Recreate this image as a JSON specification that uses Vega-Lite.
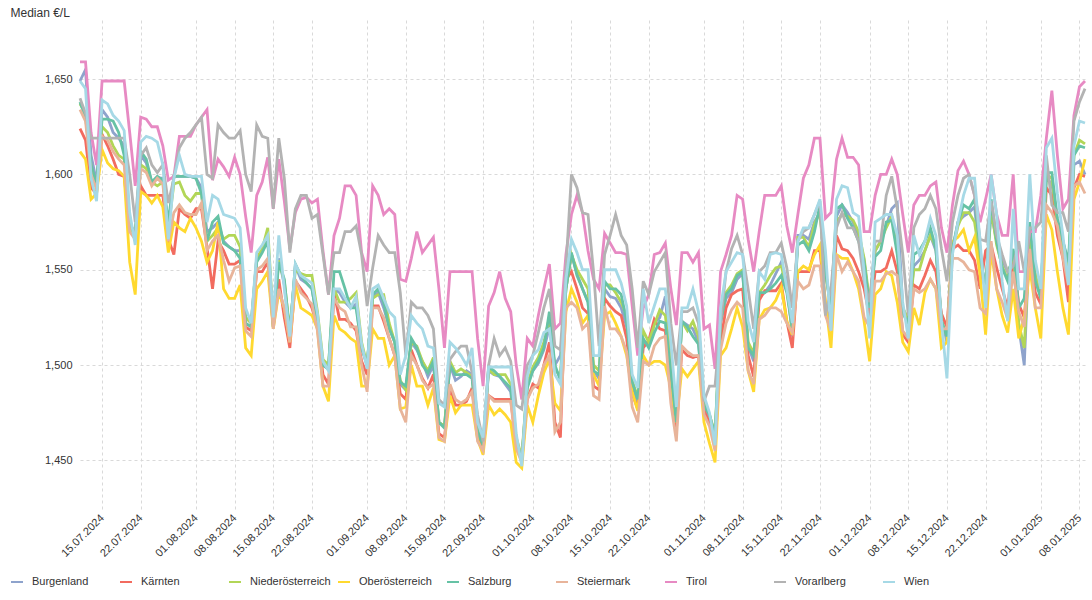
{
"$schema":"https://vega.github.io/schema/vega-lite/v6.json",
"width":1005,"height":490,
"autosize":{"type":"none"},
"padding":{"left":80,"top":20,"right":7,"bottom":90},
"background":"white",
"config":{"view":{"stroke":null},"font":"Liberation Sans"},
"data":{"values":[
{"t":"2024-07-11","Burgenland":1.649,"Kärnten":1.624,"Niederösterreich":1.637,"Oberösterreich":1.612,"Salzburg":1.638,"Steiermark":1.634,"Tirol":1.659,"Vorarlberg":1.640,"Wien":1.649},
{"t":"2024-07-12","Burgenland":1.655,"Kärnten":1.618,"Niederösterreich":1.632,"Oberösterreich":1.608,"Salzburg":1.630,"Steiermark":1.628,"Tirol":1.659,"Vorarlberg":1.632,"Wien":1.645},
{"t":"2024-07-13","Burgenland":1.610,"Kärnten":1.593,"Niederösterreich":1.604,"Oberösterreich":1.587,"Salzburg":1.605,"Steiermark":1.600,"Tirol":1.622,"Vorarlberg":1.619,"Wien":1.598},
{"t":"2024-07-14","Burgenland":1.596,"Kärnten":1.590,"Niederösterreich":1.595,"Oberösterreich":1.590,"Salzburg":1.595,"Steiermark":1.592,"Tirol":1.605,"Vorarlberg":1.619,"Wien":1.586},
{"t":"2024-07-15","Burgenland":1.634,"Kärnten":1.621,"Niederösterreich":1.625,"Oberösterreich":1.613,"Salzburg":1.629,"Steiermark":1.620,"Tirol":1.649,"Vorarlberg":1.619,"Wien":1.639},
{"t":"2024-07-16","Burgenland":1.630,"Kärnten":1.615,"Niederösterreich":1.622,"Oberösterreich":1.606,"Salzburg":1.629,"Steiermark":1.618,"Tirol":1.649,"Vorarlberg":1.619,"Wien":1.637},
{"t":"2024-07-17","Burgenland":1.622,"Kärnten":1.608,"Niederösterreich":1.615,"Oberösterreich":1.603,"Salzburg":1.628,"Steiermark":1.612,"Tirol":1.649,"Vorarlberg":1.619,"Wien":1.631},
{"t":"2024-07-18","Burgenland":1.619,"Kärnten":1.600,"Niederösterreich":1.610,"Oberösterreich":1.602,"Salzburg":1.622,"Steiermark":1.608,"Tirol":1.649,"Vorarlberg":1.619,"Wien":1.628},
{"t":"2024-07-19","Burgenland":1.615,"Kärnten":1.599,"Niederösterreich":1.608,"Oberösterreich":1.599,"Salzburg":1.610,"Steiermark":1.605,"Tirol":1.649,"Vorarlberg":1.619,"Wien":1.623},
{"t":"2024-07-20","Burgenland":1.575,"Kärnten":1.572,"Niederösterreich":1.572,"Oberösterreich":1.554,"Salzburg":1.575,"Steiermark":1.570,"Tirol":1.622,"Vorarlberg":1.600,"Wien":1.580},
{"t":"2024-07-21","Burgenland":1.568,"Kärnten":1.568,"Niederösterreich":1.568,"Oberösterreich":1.537,"Salzburg":1.568,"Steiermark":1.566,"Tirol":1.594,"Vorarlberg":1.575,"Wien":1.563},
{"t":"2024-07-22","Burgenland":1.610,"Kärnten":1.594,"Niederösterreich":1.605,"Oberösterreich":1.591,"Salzburg":1.612,"Steiermark":1.603,"Tirol":1.630,"Vorarlberg":1.610,"Wien":1.617},
{"t":"2024-07-23","Burgenland":1.606,"Kärnten":1.589,"Niederösterreich":1.603,"Oberösterreich":1.589,"Salzburg":1.608,"Steiermark":1.601,"Tirol":1.629,"Vorarlberg":1.614,"Wien":1.620},
{"t":"2024-07-24","Burgenland":1.596,"Kärnten":1.589,"Niederösterreich":1.596,"Oberösterreich":1.585,"Salzburg":1.596,"Steiermark":1.594,"Tirol":1.625,"Vorarlberg":1.605,"Wien":1.619},
{"t":"2024-07-25","Burgenland":1.598,"Kärnten":1.589,"Niederösterreich":1.594,"Oberösterreich":1.589,"Salzburg":1.599,"Steiermark":1.598,"Tirol":1.625,"Vorarlberg":1.601,"Wien":1.617},
{"t":"2024-07-26","Burgenland":1.598,"Kärnten":1.589,"Niederösterreich":1.596,"Oberösterreich":1.583,"Salzburg":1.597,"Steiermark":1.595,"Tirol":1.615,"Vorarlberg":1.605,"Wien":1.605},
{"t":"2024-07-27","Burgenland":1.570,"Kärnten":1.566,"Niederösterreich":1.572,"Oberösterreich":1.559,"Salzburg":1.575,"Steiermark":1.565,"Tirol":1.597,"Vorarlberg":1.585,"Wien":1.566},
{"t":"2024-07-28","Burgenland":1.599,"Kärnten":1.558,"Niederösterreich":1.595,"Oberösterreich":1.575,"Salzburg":1.599,"Steiermark":1.580,"Tirol":1.599,"Vorarlberg":1.598,"Wien":1.598},
{"t":"2024-07-29","Burgenland":1.599,"Kärnten":1.582,"Niederösterreich":1.596,"Oberösterreich":1.572,"Salzburg":1.599,"Steiermark":1.584,"Tirol":1.620,"Vorarlberg":1.614,"Wien":1.610},
{"t":"2024-07-30","Burgenland":1.599,"Kärnten":1.579,"Niederösterreich":1.589,"Oberösterreich":1.570,"Salzburg":1.599,"Steiermark":1.580,"Tirol":1.620,"Vorarlberg":1.619,"Wien":1.600},
{"t":"2024-07-31","Burgenland":1.599,"Kärnten":1.577,"Niederösterreich":1.586,"Oberösterreich":1.577,"Salzburg":1.599,"Steiermark":1.579,"Tirol":1.620,"Vorarlberg":1.622,"Wien":1.599},
{"t":"2024-08-01","Burgenland":1.598,"Kärnten":1.582,"Niederösterreich":1.590,"Oberösterreich":1.572,"Salzburg":1.598,"Steiermark":1.579,"Tirol":1.626,"Vorarlberg":1.626,"Wien":1.599},
{"t":"2024-08-02","Burgenland":1.593,"Kärnten":1.582,"Niederösterreich":1.590,"Oberösterreich":1.565,"Salzburg":1.590,"Steiermark":1.585,"Tirol":1.630,"Vorarlberg":1.630,"Wien":1.599},
{"t":"2024-08-03","Burgenland":1.570,"Kärnten":1.562,"Niederösterreich":1.565,"Oberösterreich":1.554,"Salzburg":1.565,"Steiermark":1.560,"Tirol":1.634,"Vorarlberg":1.600,"Wien":1.575},
{"t":"2024-08-04","Burgenland":1.572,"Kärnten":1.540,"Niederösterreich":1.568,"Oberösterreich":1.560,"Salzburg":1.575,"Steiermark":1.565,"Tirol":1.597,"Vorarlberg":1.598,"Wien":1.589},
{"t":"2024-08-05","Burgenland":1.575,"Kärnten":1.565,"Niederösterreich":1.572,"Oberösterreich":1.575,"Salzburg":1.578,"Steiermark":1.568,"Tirol":1.608,"Vorarlberg":1.626,"Wien":1.587},
{"t":"2024-08-06","Burgenland":1.565,"Kärnten":1.560,"Niederösterreich":1.566,"Oberösterreich":1.540,"Salzburg":1.564,"Steiermark":1.555,"Tirol":1.604,"Vorarlberg":1.622,"Wien":1.579},
{"t":"2024-08-07","Burgenland":1.562,"Kärnten":1.553,"Niederösterreich":1.568,"Oberösterreich":1.535,"Salzburg":1.562,"Steiermark":1.544,"Tirol":1.599,"Vorarlberg":1.619,"Wien":1.578},
{"t":"2024-08-08","Burgenland":1.560,"Kärnten":1.553,"Niederösterreich":1.568,"Oberösterreich":1.535,"Salzburg":1.560,"Steiermark":1.551,"Tirol":1.609,"Vorarlberg":1.619,"Wien":1.577},
{"t":"2024-08-09","Burgenland":1.560,"Kärnten":1.555,"Niederösterreich":1.562,"Oberösterreich":1.542,"Salzburg":1.556,"Steiermark":1.552,"Tirol":1.600,"Vorarlberg":1.623,"Wien":1.572},
{"t":"2024-08-10","Burgenland":1.525,"Kärnten":1.520,"Niederösterreich":1.525,"Oberösterreich":1.509,"Salzburg":1.522,"Steiermark":1.518,"Tirol":1.578,"Vorarlberg":1.600,"Wien":1.530},
{"t":"2024-08-11","Burgenland":1.522,"Kärnten":1.518,"Niederösterreich":1.522,"Oberösterreich":1.505,"Salzburg":1.520,"Steiermark":1.515,"Tirol":1.559,"Vorarlberg":1.591,"Wien":1.522},
{"t":"2024-08-12","Burgenland":1.556,"Kärnten":1.549,"Niederösterreich":1.556,"Oberösterreich":1.540,"Salzburg":1.554,"Steiermark":1.550,"Tirol":1.589,"Vorarlberg":1.626,"Wien":1.559},
{"t":"2024-08-13","Burgenland":1.560,"Kärnten":1.549,"Niederösterreich":1.561,"Oberösterreich":1.544,"Salzburg":1.559,"Steiermark":1.552,"Tirol":1.596,"Vorarlberg":1.620,"Wien":1.563},
{"t":"2024-08-14","Burgenland":1.566,"Kärnten":1.554,"Niederösterreich":1.572,"Oberösterreich":1.549,"Salzburg":1.565,"Steiermark":1.556,"Tirol":1.609,"Vorarlberg":1.619,"Wien":1.568},
{"t":"2024-08-15","Burgenland":1.522,"Kärnten":1.520,"Niederösterreich":1.522,"Oberösterreich":1.519,"Salzburg":1.520,"Steiermark":1.519,"Tirol":1.582,"Vorarlberg":1.582,"Wien":1.525},
{"t":"2024-08-16","Burgenland":1.556,"Kärnten":1.545,"Niederösterreich":1.555,"Oberösterreich":1.538,"Salzburg":1.554,"Steiermark":1.540,"Tirol":1.608,"Vorarlberg":1.619,"Wien":1.568},
{"t":"2024-08-17","Burgenland":1.542,"Kärnten":1.525,"Niederösterreich":1.544,"Oberösterreich":1.530,"Salzburg":1.545,"Steiermark":1.530,"Tirol":1.586,"Vorarlberg":1.598,"Wien":1.540},
{"t":"2024-08-18","Burgenland":1.516,"Kärnten":1.509,"Niederösterreich":1.518,"Oberösterreich":1.512,"Salzburg":1.516,"Steiermark":1.512,"Tirol":1.561,"Vorarlberg":1.559,"Wien":1.515},
{"t":"2024-08-19","Burgenland":1.552,"Kärnten":1.544,"Niederösterreich":1.550,"Oberösterreich":1.542,"Salzburg":1.553,"Steiermark":1.545,"Tirol":1.580,"Vorarlberg":1.582,"Wien":1.553},
{"t":"2024-08-20","Burgenland":1.545,"Kärnten":1.540,"Niederösterreich":1.548,"Oberösterreich":1.530,"Salzburg":1.547,"Steiermark":1.538,"Tirol":1.587,"Vorarlberg":1.589,"Wien":1.547},
{"t":"2024-08-21","Burgenland":1.543,"Kärnten":1.536,"Niederösterreich":1.547,"Oberösterreich":1.528,"Salzburg":1.543,"Steiermark":1.535,"Tirol":1.588,"Vorarlberg":1.589,"Wien":1.545},
{"t":"2024-08-22","Burgenland":1.540,"Kärnten":1.530,"Niederösterreich":1.547,"Oberösterreich":1.526,"Salzburg":1.540,"Steiermark":1.532,"Tirol":1.585,"Vorarlberg":1.577,"Wien":1.543},
{"t":"2024-08-23","Burgenland":1.523,"Kärnten":1.520,"Niederösterreich":1.528,"Oberösterreich":1.519,"Salzburg":1.523,"Steiermark":1.518,"Tirol":1.587,"Vorarlberg":1.579,"Wien":1.527},
{"t":"2024-08-24","Burgenland":1.500,"Kärnten":1.495,"Niederösterreich":1.503,"Oberösterreich":1.489,"Salzburg":1.500,"Steiermark":1.489,"Tirol":1.560,"Vorarlberg":1.558,"Wien":1.502},
{"t":"2024-08-25","Burgenland":1.498,"Kärnten":1.490,"Niederösterreich":1.500,"Oberösterreich":1.481,"Salzburg":1.498,"Steiermark":1.489,"Tirol":1.537,"Vorarlberg":1.537,"Wien":1.497},
{"t":"2024-08-26","Burgenland":1.540,"Kärnten":1.538,"Niederösterreich":1.540,"Oberösterreich":1.526,"Salzburg":1.549,"Steiermark":1.535,"Tirol":1.568,"Vorarlberg":1.559,"Wien":1.540},
{"t":"2024-08-27","Burgenland":1.538,"Kärnten":1.524,"Niederösterreich":1.533,"Oberösterreich":1.519,"Salzburg":1.549,"Steiermark":1.530,"Tirol":1.577,"Vorarlberg":1.559,"Wien":1.540},
{"t":"2024-08-28","Burgenland":1.533,"Kärnten":1.524,"Niederösterreich":1.533,"Oberösterreich":1.517,"Salzburg":1.540,"Steiermark":1.528,"Tirol":1.594,"Vorarlberg":1.570,"Wien":1.535},
{"t":"2024-08-29","Burgenland":1.530,"Kärnten":1.522,"Niederösterreich":1.535,"Oberösterreich":1.514,"Salzburg":1.530,"Steiermark":1.520,"Tirol":1.594,"Vorarlberg":1.570,"Wien":1.530},
{"t":"2024-08-30","Burgenland":1.532,"Kärnten":1.518,"Niederösterreich":1.538,"Oberösterreich":1.512,"Salzburg":1.530,"Steiermark":1.520,"Tirol":1.589,"Vorarlberg":1.573,"Wien":1.536},
{"t":"2024-08-31","Burgenland":1.509,"Kärnten":1.502,"Niederösterreich":1.512,"Oberösterreich":1.489,"Salzburg":1.509,"Steiermark":1.500,"Tirol":1.559,"Vorarlberg":1.558,"Wien":1.511},
{"t":"2024-09-01","Burgenland":1.500,"Kärnten":1.495,"Niederösterreich":1.500,"Oberösterreich":1.489,"Salzburg":1.500,"Steiermark":1.486,"Tirol":1.549,"Vorarlberg":1.531,"Wien":1.498},
{"t":"2024-09-02","Burgenland":1.536,"Kärnten":1.531,"Niederösterreich":1.535,"Oberösterreich":1.519,"Salzburg":1.537,"Steiermark":1.530,"Tirol":1.594,"Vorarlberg":1.551,"Wien":1.540},
{"t":"2024-09-03","Burgenland":1.538,"Kärnten":1.531,"Niederösterreich":1.537,"Oberösterreich":1.514,"Salzburg":1.540,"Steiermark":1.530,"Tirol":1.589,"Vorarlberg":1.568,"Wien":1.542},
{"t":"2024-09-04","Burgenland":1.530,"Kärnten":1.523,"Niederösterreich":1.537,"Oberösterreich":1.514,"Salzburg":1.533,"Steiermark":1.525,"Tirol":1.579,"Vorarlberg":1.563,"Wien":1.535},
{"t":"2024-09-05","Burgenland":1.520,"Kärnten":1.514,"Niederösterreich":1.522,"Oberösterreich":1.500,"Salzburg":1.519,"Steiermark":1.514,"Tirol":1.582,"Vorarlberg":1.559,"Wien":1.528},
{"t":"2024-09-06","Burgenland":1.512,"Kärnten":1.505,"Niederösterreich":1.512,"Oberösterreich":1.505,"Salzburg":1.512,"Steiermark":1.505,"Tirol":1.579,"Vorarlberg":1.559,"Wien":1.525},
{"t":"2024-09-07","Burgenland":1.490,"Kärnten":1.485,"Niederösterreich":1.492,"Oberösterreich":1.477,"Salzburg":1.491,"Steiermark":1.477,"Tirol":1.545,"Vorarlberg":1.538,"Wien":1.495},
{"t":"2024-09-08","Burgenland":1.487,"Kärnten":1.482,"Niederösterreich":1.487,"Oberösterreich":1.478,"Salzburg":1.489,"Steiermark":1.470,"Tirol":1.544,"Vorarlberg":1.505,"Wien":1.505},
{"t":"2024-09-09","Burgenland":1.512,"Kärnten":1.508,"Niederösterreich":1.512,"Oberösterreich":1.500,"Salzburg":1.514,"Steiermark":1.505,"Tirol":1.556,"Vorarlberg":1.533,"Wien":1.526},
{"t":"2024-09-10","Burgenland":1.508,"Kärnten":1.500,"Niederösterreich":1.510,"Oberösterreich":1.489,"Salzburg":1.509,"Steiermark":1.500,"Tirol":1.570,"Vorarlberg":1.530,"Wien":1.522},
{"t":"2024-09-11","Burgenland":1.502,"Kärnten":1.493,"Niederösterreich":1.502,"Oberösterreich":1.489,"Salzburg":1.500,"Steiermark":1.492,"Tirol":1.559,"Vorarlberg":1.530,"Wien":1.519},
{"t":"2024-09-12","Burgenland":1.494,"Kärnten":1.488,"Niederösterreich":1.497,"Oberösterreich":1.479,"Salzburg":1.496,"Steiermark":1.488,"Tirol":1.563,"Vorarlberg":1.526,"Wien":1.510},
{"t":"2024-09-13","Burgenland":1.500,"Kärnten":1.495,"Niederösterreich":1.504,"Oberösterreich":1.488,"Salzburg":1.502,"Steiermark":1.490,"Tirol":1.567,"Vorarlberg":1.519,"Wien":1.509},
{"t":"2024-09-14","Burgenland":1.470,"Kärnten":1.464,"Niederösterreich":1.470,"Oberösterreich":1.461,"Salzburg":1.470,"Steiermark":1.462,"Tirol":1.540,"Vorarlberg":1.482,"Wien":1.480},
{"t":"2024-09-15","Burgenland":1.468,"Kärnten":1.462,"Niederösterreich":1.468,"Oberösterreich":1.460,"Salzburg":1.467,"Steiermark":1.460,"Tirol":1.509,"Vorarlberg":1.479,"Wien":1.478},
{"t":"2024-09-16","Burgenland":1.500,"Kärnten":1.488,"Niederösterreich":1.502,"Oberösterreich":1.484,"Salzburg":1.500,"Steiermark":1.490,"Tirol":1.549,"Vorarlberg":1.503,"Wien":1.512},
{"t":"2024-09-17","Burgenland":1.492,"Kärnten":1.479,"Niederösterreich":1.496,"Oberösterreich":1.475,"Salzburg":1.495,"Steiermark":1.482,"Tirol":1.549,"Vorarlberg":1.507,"Wien":1.509},
{"t":"2024-09-18","Burgenland":1.494,"Kärnten":1.479,"Niederösterreich":1.498,"Oberösterreich":1.479,"Salzburg":1.495,"Steiermark":1.480,"Tirol":1.549,"Vorarlberg":1.510,"Wien":1.505},
{"t":"2024-09-19","Burgenland":1.497,"Kärnten":1.481,"Niederösterreich":1.496,"Oberösterreich":1.479,"Salzburg":1.495,"Steiermark":1.482,"Tirol":1.549,"Vorarlberg":1.510,"Wien":1.500},
{"t":"2024-09-20","Burgenland":1.495,"Kärnten":1.488,"Niederösterreich":1.494,"Oberösterreich":1.479,"Salzburg":1.493,"Steiermark":1.486,"Tirol":1.549,"Vorarlberg":1.496,"Wien":1.509},
{"t":"2024-09-21","Burgenland":1.466,"Kärnten":1.462,"Niederösterreich":1.466,"Oberösterreich":1.461,"Salzburg":1.465,"Steiermark":1.460,"Tirol":1.514,"Vorarlberg":1.474,"Wien":1.470},
{"t":"2024-09-22","Burgenland":1.458,"Kärnten":1.456,"Niederösterreich":1.458,"Oberösterreich":1.453,"Salzburg":1.458,"Steiermark":1.455,"Tirol":1.489,"Vorarlberg":1.460,"Wien":1.462},
{"t":"2024-09-23","Burgenland":1.497,"Kärnten":1.484,"Niederösterreich":1.498,"Oberösterreich":1.479,"Salzburg":1.499,"Steiermark":1.484,"Tirol":1.531,"Vorarlberg":1.500,"Wien":1.499},
{"t":"2024-09-24","Burgenland":1.495,"Kärnten":1.482,"Niederösterreich":1.495,"Oberösterreich":1.474,"Salzburg":1.497,"Steiermark":1.481,"Tirol":1.538,"Vorarlberg":1.514,"Wien":1.499},
{"t":"2024-09-25","Burgenland":1.494,"Kärnten":1.482,"Niederösterreich":1.495,"Oberösterreich":1.477,"Salzburg":1.494,"Steiermark":1.481,"Tirol":1.549,"Vorarlberg":1.505,"Wien":1.499},
{"t":"2024-09-26","Burgenland":1.490,"Kärnten":1.482,"Niederösterreich":1.495,"Oberösterreich":1.474,"Salzburg":1.491,"Steiermark":1.481,"Tirol":1.535,"Vorarlberg":1.509,"Wien":1.499},
{"t":"2024-09-27","Burgenland":1.486,"Kärnten":1.482,"Niederösterreich":1.490,"Oberösterreich":1.470,"Salzburg":1.488,"Steiermark":1.481,"Tirol":1.528,"Vorarlberg":1.502,"Wien":1.499},
{"t":"2024-09-28","Burgenland":1.460,"Kärnten":1.458,"Niederösterreich":1.462,"Oberösterreich":1.449,"Salzburg":1.461,"Steiermark":1.456,"Tirol":1.500,"Vorarlberg":1.479,"Wien":1.464},
{"t":"2024-09-29","Burgenland":1.450,"Kärnten":1.450,"Niederösterreich":1.452,"Oberösterreich":1.446,"Salzburg":1.450,"Steiermark":1.449,"Tirol":1.482,"Vorarlberg":1.477,"Wien":1.447},
{"t":"2024-09-30","Burgenland":1.490,"Kärnten":1.482,"Niederösterreich":1.490,"Oberösterreich":1.479,"Salzburg":1.488,"Steiermark":1.482,"Tirol":1.514,"Vorarlberg":1.500,"Wien":1.494},
{"t":"2024-10-01","Burgenland":1.497,"Kärnten":1.490,"Niederösterreich":1.499,"Oberösterreich":1.470,"Salzburg":1.497,"Steiermark":1.488,"Tirol":1.510,"Vorarlberg":1.505,"Wien":1.505},
{"t":"2024-10-02","Burgenland":1.501,"Kärnten":1.488,"Niederösterreich":1.504,"Oberösterreich":1.484,"Salzburg":1.502,"Steiermark":1.490,"Tirol":1.526,"Vorarlberg":1.517,"Wien":1.508},
{"t":"2024-10-03","Burgenland":1.508,"Kärnten":1.500,"Niederösterreich":1.512,"Oberösterreich":1.496,"Salzburg":1.509,"Steiermark":1.500,"Tirol":1.540,"Vorarlberg":1.530,"Wien":1.517},
{"t":"2024-10-04","Burgenland":1.520,"Kärnten":1.512,"Niederösterreich":1.525,"Oberösterreich":1.503,"Salzburg":1.528,"Steiermark":1.505,"Tirol":1.553,"Vorarlberg":1.540,"Wien":1.519},
{"t":"2024-10-05","Burgenland":1.500,"Kärnten":1.470,"Niederösterreich":1.497,"Oberösterreich":1.480,"Salzburg":1.500,"Steiermark":1.465,"Tirol":1.519,"Vorarlberg":1.510,"Wien":1.495},
{"t":"2024-10-06","Burgenland":1.505,"Kärnten":1.462,"Niederösterreich":1.495,"Oberösterreich":1.476,"Salzburg":1.492,"Steiermark":1.470,"Tirol":1.522,"Vorarlberg":1.508,"Wien":1.490},
{"t":"2024-10-07","Burgenland":1.540,"Kärnten":1.545,"Niederösterreich":1.540,"Oberösterreich":1.528,"Salzburg":1.540,"Steiermark":1.530,"Tirol":1.558,"Vorarlberg":1.551,"Wien":1.545},
{"t":"2024-10-08","Burgenland":1.558,"Kärnten":1.549,"Niederösterreich":1.558,"Oberösterreich":1.540,"Salzburg":1.559,"Steiermark":1.533,"Tirol":1.579,"Vorarlberg":1.600,"Wien":1.566},
{"t":"2024-10-09","Burgenland":1.548,"Kärnten":1.540,"Niederösterreich":1.550,"Oberösterreich":1.533,"Salzburg":1.547,"Steiermark":1.530,"Tirol":1.589,"Vorarlberg":1.593,"Wien":1.559},
{"t":"2024-10-10","Burgenland":1.540,"Kärnten":1.530,"Niederösterreich":1.545,"Oberösterreich":1.522,"Salzburg":1.540,"Steiermark":1.519,"Tirol":1.580,"Vorarlberg":1.580,"Wien":1.550},
{"t":"2024-10-11","Burgenland":1.533,"Kärnten":1.527,"Niederösterreich":1.540,"Oberösterreich":1.526,"Salzburg":1.533,"Steiermark":1.522,"Tirol":1.560,"Vorarlberg":1.579,"Wien":1.550},
{"t":"2024-10-12","Burgenland":1.497,"Kärnten":1.489,"Niederösterreich":1.500,"Oberösterreich":1.495,"Salzburg":1.497,"Steiermark":1.484,"Tirol":1.545,"Vorarlberg":1.549,"Wien":1.505},
{"t":"2024-10-13","Burgenland":1.493,"Kärnten":1.487,"Niederösterreich":1.497,"Oberösterreich":1.489,"Salzburg":1.495,"Steiermark":1.482,"Tirol":1.540,"Vorarlberg":1.510,"Wien":1.505},
{"t":"2024-10-14","Burgenland":1.540,"Kärnten":1.535,"Niederösterreich":1.542,"Oberösterreich":1.526,"Salzburg":1.544,"Steiermark":1.531,"Tirol":1.569,"Vorarlberg":1.558,"Wien":1.550},
{"t":"2024-10-15","Burgenland":1.536,"Kärnten":1.531,"Niederösterreich":1.542,"Oberösterreich":1.528,"Salzburg":1.540,"Steiermark":1.519,"Tirol":1.564,"Vorarlberg":1.568,"Wien":1.550},
{"t":"2024-10-16","Burgenland":1.535,"Kärnten":1.528,"Niederösterreich":1.538,"Oberösterreich":1.522,"Salzburg":1.540,"Steiermark":1.519,"Tirol":1.559,"Vorarlberg":1.579,"Wien":1.550},
{"t":"2024-10-17","Burgenland":1.530,"Kärnten":1.526,"Niederösterreich":1.533,"Oberösterreich":1.515,"Salzburg":1.537,"Steiermark":1.515,"Tirol":1.559,"Vorarlberg":1.568,"Wien":1.543},
{"t":"2024-10-18","Burgenland":1.520,"Kärnten":1.514,"Niederösterreich":1.526,"Oberösterreich":1.505,"Salzburg":1.523,"Steiermark":1.507,"Tirol":1.558,"Vorarlberg":1.563,"Wien":1.531},
{"t":"2024-10-19","Burgenland":1.490,"Kärnten":1.485,"Niederösterreich":1.492,"Oberösterreich":1.486,"Salzburg":1.491,"Steiermark":1.478,"Tirol":1.531,"Vorarlberg":1.540,"Wien":1.495},
{"t":"2024-10-20","Burgenland":1.480,"Kärnten":1.477,"Niederösterreich":1.483,"Oberösterreich":1.476,"Salzburg":1.482,"Steiermark":1.470,"Tirol":1.505,"Vorarlberg":1.509,"Wien":1.488},
{"t":"2024-10-21","Burgenland":1.512,"Kärnten":1.509,"Niederösterreich":1.518,"Oberösterreich":1.505,"Salzburg":1.514,"Steiermark":1.502,"Tirol":1.530,"Vorarlberg":1.544,"Wien":1.540},
{"t":"2024-10-22","Burgenland":1.510,"Kärnten":1.513,"Niederösterreich":1.512,"Oberösterreich":1.500,"Salzburg":1.509,"Steiermark":1.500,"Tirol":1.537,"Vorarlberg":1.537,"Wien":1.522},
{"t":"2024-10-23","Burgenland":1.522,"Kärnten":1.524,"Niederösterreich":1.521,"Oberösterreich":1.502,"Salzburg":1.517,"Steiermark":1.510,"Tirol":1.558,"Vorarlberg":1.549,"Wien":1.531},
{"t":"2024-10-24","Burgenland":1.525,"Kärnten":1.519,"Niederösterreich":1.529,"Oberösterreich":1.502,"Salzburg":1.523,"Steiermark":1.514,"Tirol":1.559,"Vorarlberg":1.554,"Wien":1.540},
{"t":"2024-10-25","Burgenland":1.536,"Kärnten":1.518,"Niederösterreich":1.526,"Oberösterreich":1.500,"Salzburg":1.522,"Steiermark":1.515,"Tirol":1.564,"Vorarlberg":1.559,"Wien":1.540},
{"t":"2024-10-26","Burgenland":1.500,"Kärnten":1.488,"Niederösterreich":1.500,"Oberösterreich":1.488,"Salzburg":1.496,"Steiermark":1.480,"Tirol":1.540,"Vorarlberg":1.522,"Wien":1.512},
{"t":"2024-10-27","Burgenland":1.472,"Kärnten":1.466,"Niederösterreich":1.474,"Oberösterreich":1.470,"Salzburg":1.470,"Steiermark":1.460,"Tirol":1.521,"Vorarlberg":1.500,"Wien":1.478},
{"t":"2024-10-28","Burgenland":1.523,"Kärnten":1.508,"Niederösterreich":1.523,"Oberösterreich":1.498,"Salzburg":1.523,"Steiermark":1.510,"Tirol":1.559,"Vorarlberg":1.528,"Wien":1.530},
{"t":"2024-10-29","Burgenland":1.521,"Kärnten":1.505,"Niederösterreich":1.518,"Oberösterreich":1.494,"Salzburg":1.520,"Steiermark":1.507,"Tirol":1.559,"Vorarlberg":1.528,"Wien":1.530},
{"t":"2024-10-30","Burgenland":1.519,"Kärnten":1.504,"Niederösterreich":1.523,"Oberösterreich":1.498,"Salzburg":1.515,"Steiermark":1.505,"Tirol":1.554,"Vorarlberg":1.530,"Wien":1.540},
{"t":"2024-10-31","Burgenland":1.512,"Kärnten":1.505,"Niederösterreich":1.515,"Oberösterreich":1.502,"Salzburg":1.511,"Steiermark":1.505,"Tirol":1.559,"Vorarlberg":1.522,"Wien":1.528},
{"t":"2024-11-01","Burgenland":1.478,"Kärnten":1.476,"Niederösterreich":1.480,"Oberösterreich":1.470,"Salzburg":1.479,"Steiermark":1.474,"Tirol":1.519,"Vorarlberg":1.481,"Wien":1.484},
{"t":"2024-11-02","Burgenland":1.473,"Kärnten":1.470,"Niederösterreich":1.474,"Oberösterreich":1.459,"Salzburg":1.474,"Steiermark":1.468,"Tirol":1.521,"Vorarlberg":1.489,"Wien":1.475},
{"t":"2024-11-03","Burgenland":1.462,"Kärnten":1.458,"Niederösterreich":1.464,"Oberösterreich":1.449,"Salzburg":1.463,"Steiermark":1.455,"Tirol":1.498,"Vorarlberg":1.489,"Wien":1.458},
{"t":"2024-11-04","Burgenland":1.522,"Kärnten":1.512,"Niederösterreich":1.524,"Oberösterreich":1.505,"Salzburg":1.523,"Steiermark":1.508,"Tirol":1.549,"Vorarlberg":1.522,"Wien":1.530},
{"t":"2024-11-05","Burgenland":1.535,"Kärnten":1.530,"Niederösterreich":1.538,"Oberösterreich":1.509,"Salzburg":1.537,"Steiermark":1.522,"Tirol":1.558,"Vorarlberg":1.549,"Wien":1.549},
{"t":"2024-11-06","Burgenland":1.538,"Kärnten":1.537,"Niederösterreich":1.542,"Oberösterreich":1.519,"Salzburg":1.540,"Steiermark":1.529,"Tirol":1.568,"Vorarlberg":1.561,"Wien":1.554},
{"t":"2024-11-07","Burgenland":1.545,"Kärnten":1.539,"Niederösterreich":1.548,"Oberösterreich":1.530,"Salzburg":1.547,"Steiermark":1.533,"Tirol":1.589,"Vorarlberg":1.568,"Wien":1.559},
{"t":"2024-11-08","Burgenland":1.548,"Kärnten":1.540,"Niederösterreich":1.550,"Oberösterreich":1.520,"Salzburg":1.549,"Steiermark":1.530,"Tirol":1.587,"Vorarlberg":1.558,"Wien":1.558},
{"t":"2024-11-09","Burgenland":1.510,"Kärnten":1.505,"Niederösterreich":1.512,"Oberösterreich":1.497,"Salzburg":1.509,"Steiermark":1.497,"Tirol":1.566,"Vorarlberg":1.540,"Wien":1.523},
{"t":"2024-11-10","Burgenland":1.502,"Kärnten":1.494,"Niederösterreich":1.506,"Oberösterreich":1.486,"Salzburg":1.505,"Steiermark":1.490,"Tirol":1.549,"Vorarlberg":1.519,"Wien":1.512},
{"t":"2024-11-11","Burgenland":1.536,"Kärnten":1.534,"Niederösterreich":1.538,"Oberösterreich":1.524,"Salzburg":1.538,"Steiermark":1.524,"Tirol":1.570,"Vorarlberg":1.549,"Wien":1.549},
{"t":"2024-11-12","Burgenland":1.538,"Kärnten":1.539,"Niederösterreich":1.542,"Oberösterreich":1.529,"Salzburg":1.538,"Steiermark":1.526,"Tirol":1.589,"Vorarlberg":1.552,"Wien":1.545},
{"t":"2024-11-13","Burgenland":1.542,"Kärnten":1.539,"Niederösterreich":1.547,"Oberösterreich":1.530,"Salzburg":1.540,"Steiermark":1.530,"Tirol":1.589,"Vorarlberg":1.559,"Wien":1.558},
{"t":"2024-11-14","Burgenland":1.548,"Kärnten":1.539,"Niederösterreich":1.551,"Oberösterreich":1.534,"Salzburg":1.543,"Steiermark":1.530,"Tirol":1.589,"Vorarlberg":1.559,"Wien":1.559},
{"t":"2024-11-15","Burgenland":1.554,"Kärnten":1.543,"Niederösterreich":1.552,"Oberösterreich":1.541,"Salzburg":1.547,"Steiermark":1.528,"Tirol":1.594,"Vorarlberg":1.564,"Wien":1.558},
{"t":"2024-11-16","Burgenland":1.544,"Kärnten":1.523,"Niederösterreich":1.540,"Oberösterreich":1.523,"Salzburg":1.538,"Steiermark":1.522,"Tirol":1.573,"Vorarlberg":1.551,"Wien":1.540},
{"t":"2024-11-17","Burgenland":1.515,"Kärnten":1.509,"Niederösterreich":1.518,"Oberösterreich":1.516,"Salzburg":1.519,"Steiermark":1.517,"Tirol":1.559,"Vorarlberg":1.530,"Wien":1.522},
{"t":"2024-11-18","Burgenland":1.568,"Kärnten":1.549,"Niederösterreich":1.567,"Oberösterreich":1.549,"Salzburg":1.563,"Steiermark":1.544,"Tirol":1.579,"Vorarlberg":1.565,"Wien":1.565},
{"t":"2024-11-19","Burgenland":1.568,"Kärnten":1.549,"Niederösterreich":1.567,"Oberösterreich":1.552,"Salzburg":1.565,"Steiermark":1.540,"Tirol":1.598,"Vorarlberg":1.570,"Wien":1.572},
{"t":"2024-11-20","Burgenland":1.566,"Kärnten":1.549,"Niederösterreich":1.562,"Oberösterreich":1.550,"Salzburg":1.560,"Steiermark":1.542,"Tirol":1.605,"Vorarlberg":1.572,"Wien":1.572},
{"t":"2024-11-21","Burgenland":1.575,"Kärnten":1.560,"Niederösterreich":1.574,"Oberösterreich":1.558,"Salzburg":1.570,"Steiermark":1.552,"Tirol":1.619,"Vorarlberg":1.579,"Wien":1.579},
{"t":"2024-11-22","Burgenland":1.580,"Kärnten":1.560,"Niederösterreich":1.580,"Oberösterreich":1.563,"Salzburg":1.584,"Steiermark":1.552,"Tirol":1.619,"Vorarlberg":1.586,"Wien":1.587},
{"t":"2024-11-23","Burgenland":1.550,"Kärnten":1.532,"Niederösterreich":1.547,"Oberösterreich":1.533,"Salzburg":1.549,"Steiermark":1.526,"Tirol":1.577,"Vorarlberg":1.526,"Wien":1.560},
{"t":"2024-11-24","Burgenland":1.528,"Kärnten":1.520,"Niederösterreich":1.532,"Oberösterreich":1.509,"Salzburg":1.530,"Steiermark":1.518,"Tirol":1.580,"Vorarlberg":1.540,"Wien":1.518},
{"t":"2024-11-25","Burgenland":1.578,"Kärnten":1.568,"Niederösterreich":1.575,"Oberösterreich":1.558,"Salzburg":1.582,"Steiermark":1.558,"Tirol":1.608,"Vorarlberg":1.572,"Wien":1.587},
{"t":"2024-11-26","Burgenland":1.584,"Kärnten":1.561,"Niederösterreich":1.579,"Oberösterreich":1.556,"Salzburg":1.584,"Steiermark":1.549,"Tirol":1.619,"Vorarlberg":1.580,"Wien":1.594},
{"t":"2024-11-27","Burgenland":1.580,"Kärnten":1.560,"Niederösterreich":1.578,"Oberösterreich":1.556,"Salzburg":1.577,"Steiermark":1.554,"Tirol":1.609,"Vorarlberg":1.572,"Wien":1.593},
{"t":"2024-11-28","Burgenland":1.575,"Kärnten":1.556,"Niederösterreich":1.576,"Oberösterreich":1.549,"Salzburg":1.572,"Steiermark":1.549,"Tirol":1.609,"Vorarlberg":1.572,"Wien":1.580},
{"t":"2024-11-29","Burgenland":1.568,"Kärnten":1.549,"Niederösterreich":1.570,"Oberösterreich":1.540,"Salzburg":1.565,"Steiermark":1.544,"Tirol":1.605,"Vorarlberg":1.565,"Wien":1.578},
{"t":"2024-11-30","Burgenland":1.555,"Kärnten":1.540,"Niederösterreich":1.556,"Oberösterreich":1.523,"Salzburg":1.554,"Steiermark":1.525,"Tirol":1.570,"Vorarlberg":1.544,"Wien":1.549},
{"t":"2024-12-01","Burgenland":1.530,"Kärnten":1.525,"Niederösterreich":1.533,"Oberösterreich":1.502,"Salzburg":1.530,"Steiermark":1.520,"Tirol":1.570,"Vorarlberg":1.533,"Wien":1.514},
{"t":"2024-12-02","Burgenland":1.560,"Kärnten":1.549,"Niederösterreich":1.560,"Oberösterreich":1.537,"Salzburg":1.557,"Steiermark":1.544,"Tirol":1.589,"Vorarlberg":1.565,"Wien":1.575},
{"t":"2024-12-03","Burgenland":1.565,"Kärnten":1.549,"Niederösterreich":1.565,"Oberösterreich":1.540,"Salzburg":1.560,"Steiermark":1.544,"Tirol":1.600,"Vorarlberg":1.565,"Wien":1.577},
{"t":"2024-12-04","Burgenland":1.573,"Kärnten":1.551,"Niederösterreich":1.572,"Oberösterreich":1.549,"Salzburg":1.575,"Steiermark":1.548,"Tirol":1.600,"Vorarlberg":1.589,"Wien":1.579},
{"t":"2024-12-05","Burgenland":1.582,"Kärnten":1.560,"Niederösterreich":1.578,"Oberösterreich":1.547,"Salzburg":1.576,"Steiermark":1.549,"Tirol":1.608,"Vorarlberg":1.599,"Wien":1.579},
{"t":"2024-12-06","Burgenland":1.585,"Kärnten":1.549,"Niederösterreich":1.566,"Oberösterreich":1.533,"Salzburg":1.558,"Steiermark":1.547,"Tirol":1.600,"Vorarlberg":1.582,"Wien":1.568},
{"t":"2024-12-07","Burgenland":1.530,"Kärnten":1.516,"Niederösterreich":1.530,"Oberösterreich":1.512,"Salzburg":1.527,"Steiermark":1.518,"Tirol":1.579,"Vorarlberg":1.558,"Wien":1.533},
{"t":"2024-12-08","Burgenland":1.523,"Kärnten":1.512,"Niederösterreich":1.524,"Oberösterreich":1.507,"Salzburg":1.522,"Steiermark":1.514,"Tirol":1.559,"Vorarlberg":1.526,"Wien":1.514},
{"t":"2024-12-09","Burgenland":1.552,"Kärnten":1.542,"Niederösterreich":1.550,"Oberösterreich":1.530,"Salzburg":1.558,"Steiermark":1.540,"Tirol":1.584,"Vorarlberg":1.572,"Wien":1.568},
{"t":"2024-12-10","Burgenland":1.555,"Kärnten":1.540,"Niederösterreich":1.550,"Oberösterreich":1.521,"Salzburg":1.560,"Steiermark":1.538,"Tirol":1.589,"Vorarlberg":1.579,"Wien":1.558},
{"t":"2024-12-11","Burgenland":1.560,"Kärnten":1.547,"Niederösterreich":1.560,"Oberösterreich":1.538,"Salzburg":1.565,"Steiermark":1.540,"Tirol":1.589,"Vorarlberg":1.582,"Wien":1.565},
{"t":"2024-12-12","Burgenland":1.568,"Kärnten":1.555,"Niederösterreich":1.568,"Oberösterreich":1.545,"Salzburg":1.572,"Steiermark":1.545,"Tirol":1.594,"Vorarlberg":1.589,"Wien":1.577},
{"t":"2024-12-13","Burgenland":1.560,"Kärnten":1.549,"Niederösterreich":1.562,"Oberösterreich":1.540,"Salzburg":1.561,"Steiermark":1.540,"Tirol":1.596,"Vorarlberg":1.582,"Wien":1.568},
{"t":"2024-12-14","Burgenland":1.525,"Kärnten":1.527,"Niederösterreich":1.523,"Oberösterreich":1.509,"Salzburg":1.523,"Steiermark":1.519,"Tirol":1.572,"Vorarlberg":1.561,"Wien":1.523},
{"t":"2024-12-15","Burgenland":1.512,"Kärnten":1.520,"Niederösterreich":1.515,"Oberösterreich":1.512,"Salzburg":1.515,"Steiermark":1.519,"Tirol":1.559,"Vorarlberg":1.544,"Wien":1.493},
{"t":"2024-12-16","Burgenland":1.560,"Kärnten":1.561,"Niederösterreich":1.560,"Oberösterreich":1.565,"Salzburg":1.561,"Steiermark":1.556,"Tirol":1.584,"Vorarlberg":1.575,"Wien":1.558},
{"t":"2024-12-17","Burgenland":1.575,"Kärnten":1.563,"Niederösterreich":1.573,"Oberösterreich":1.567,"Salzburg":1.575,"Steiermark":1.556,"Tirol":1.602,"Vorarlberg":1.589,"Wien":1.575},
{"t":"2024-12-18","Burgenland":1.578,"Kärnten":1.560,"Niederösterreich":1.580,"Oberösterreich":1.571,"Salzburg":1.584,"Steiermark":1.554,"Tirol":1.607,"Vorarlberg":1.598,"Wien":1.589},
{"t":"2024-12-19","Burgenland":1.580,"Kärnten":1.560,"Niederösterreich":1.580,"Oberösterreich":1.560,"Salzburg":1.582,"Steiermark":1.550,"Tirol":1.600,"Vorarlberg":1.600,"Wien":1.598},
{"t":"2024-12-20","Burgenland":1.583,"Kärnten":1.555,"Niederösterreich":1.575,"Oberösterreich":1.567,"Salzburg":1.587,"Steiermark":1.549,"Tirol":1.589,"Vorarlberg":1.589,"Wien":1.598},
{"t":"2024-12-21","Burgenland":1.555,"Kärnten":1.540,"Niederösterreich":1.555,"Oberösterreich":1.547,"Salzburg":1.561,"Steiermark":1.530,"Tirol":1.575,"Vorarlberg":1.566,"Wien":1.565},
{"t":"2024-12-22","Burgenland":1.542,"Kärnten":1.560,"Niederösterreich":1.540,"Oberösterreich":1.516,"Salzburg":1.537,"Steiermark":1.527,"Tirol":1.587,"Vorarlberg":1.565,"Wien":1.530},
{"t":"2024-12-23","Burgenland":1.580,"Kärnten":1.563,"Niederösterreich":1.582,"Oberösterreich":1.560,"Salzburg":1.587,"Steiermark":1.565,"Tirol":1.600,"Vorarlberg":1.586,"Wien":1.600},
{"t":"2024-12-24","Burgenland":1.565,"Kärnten":1.551,"Niederösterreich":1.563,"Oberösterreich":1.540,"Salzburg":1.565,"Steiermark":1.540,"Tirol":1.579,"Vorarlberg":1.568,"Wien":1.579},
{"t":"2024-12-25","Burgenland":1.555,"Kärnten":1.540,"Niederösterreich":1.552,"Oberösterreich":1.526,"Salzburg":1.551,"Steiermark":1.533,"Tirol":1.568,"Vorarlberg":1.558,"Wien":1.544},
{"t":"2024-12-26","Burgenland":1.549,"Kärnten":1.530,"Niederösterreich":1.545,"Oberösterreich":1.517,"Salzburg":1.544,"Steiermark":1.524,"Tirol":1.568,"Vorarlberg":1.549,"Wien":1.523},
{"t":"2024-12-27","Burgenland":1.555,"Kärnten":1.558,"Niederösterreich":1.560,"Oberösterreich":1.540,"Salzburg":1.561,"Steiermark":1.549,"Tirol":1.600,"Vorarlberg":1.552,"Wien":1.582},
{"t":"2024-12-28","Burgenland":1.520,"Kärnten":1.532,"Niederösterreich":1.522,"Oberösterreich":1.514,"Salzburg":1.530,"Steiermark":1.528,"Tirol":1.549,"Vorarlberg":1.565,"Wien":1.540},
{"t":"2024-12-29","Burgenland":1.500,"Kärnten":1.525,"Niederösterreich":1.509,"Oberösterreich":1.525,"Salzburg":1.535,"Steiermark":1.520,"Tirol":1.549,"Vorarlberg":1.549,"Wien":1.540},
{"t":"2024-12-30","Burgenland":1.570,"Kärnten":1.561,"Niederösterreich":1.568,"Oberösterreich":1.551,"Salzburg":1.575,"Steiermark":1.561,"Tirol":1.570,"Vorarlberg":1.572,"Wien":1.600},
{"t":"2024-12-31","Burgenland":1.545,"Kärnten":1.538,"Niederösterreich":1.548,"Oberösterreich":1.530,"Salzburg":1.544,"Steiermark":1.530,"Tirol":1.570,"Vorarlberg":1.572,"Wien":1.555},
{"t":"2025-01-01","Burgenland":1.537,"Kärnten":1.532,"Niederösterreich":1.535,"Oberösterreich":1.514,"Salzburg":1.535,"Steiermark":1.530,"Tirol":1.589,"Vorarlberg":1.575,"Wien":1.540},
{"t":"2025-01-02","Burgenland":1.598,"Kärnten":1.593,"Niederösterreich":1.600,"Oberösterreich":1.579,"Salzburg":1.601,"Steiermark":1.584,"Tirol":1.619,"Vorarlberg":1.610,"Wien":1.614},
{"t":"2025-01-03","Burgenland":1.595,"Kärnten":1.589,"Niederösterreich":1.598,"Oberösterreich":1.571,"Salzburg":1.601,"Steiermark":1.580,"Tirol":1.644,"Vorarlberg":1.584,"Wien":1.619},
{"t":"2025-01-04","Burgenland":1.575,"Kärnten":1.568,"Niederösterreich":1.575,"Oberösterreich":1.549,"Salzburg":1.577,"Steiermark":1.573,"Tirol":1.610,"Vorarlberg":1.580,"Wien":1.590},
{"t":"2025-01-05","Burgenland":1.565,"Kärnten":1.556,"Niederösterreich":1.562,"Oberösterreich":1.530,"Salzburg":1.565,"Steiermark":1.556,"Tirol":1.582,"Vorarlberg":1.580,"Wien":1.568},
{"t":"2025-01-06","Burgenland":1.552,"Kärnten":1.533,"Niederösterreich":1.550,"Oberösterreich":1.516,"Salzburg":1.554,"Steiermark":1.542,"Tirol":1.587,"Vorarlberg":1.570,"Wien":1.542},
{"t":"2025-01-07","Burgenland":1.605,"Kärnten":1.593,"Niederösterreich":1.610,"Oberösterreich":1.587,"Salzburg":1.610,"Steiermark":1.594,"Tirol":1.631,"Vorarlberg":1.628,"Wien":1.615},
{"t":"2025-01-08","Burgenland":1.607,"Kärnten":1.600,"Niederösterreich":1.618,"Oberösterreich":1.596,"Salzburg":1.615,"Steiermark":1.596,"Tirol":1.646,"Vorarlberg":1.638,"Wien":1.628},
{"t":"2025-01-09","Burgenland":1.600,"Kärnten":1.599,"Niederösterreich":1.616,"Oberösterreich":1.608,"Salzburg":1.614,"Steiermark":1.590,"Tirol":1.649,"Vorarlberg":1.645,"Wien":1.627}
]},
"transform":[{"fold":["Burgenland","Kärnten","Niederösterreich","Oberösterreich","Salzburg","Steiermark","Tirol","Vorarlberg","Wien"],"as":["Bundesland","Preis"]}],
"mark":{"type":"line","strokeWidth":2.8,"strokeJoin":"miter"},
"encoding":{
"x":{"field":"t","type":"temporal",
 "scale":{"type":"utc","domain":[{"year":2024,"month":7,"date":11,"utc":true},{"year":2025,"month":1,"date":9,"utc":true}]},
 "axis":{"title":null,"format":"%d.%m.%Y","labelAngle":-45,"labelAlign":"right","labelBaseline":"middle","labelPadding":6,"labelFontSize":11,"labelColor":"#333333","labelOverlap":false,"labelFlush":false,"domain":false,"ticks":false,"grid":true,"gridDash":[3,3],"gridColor":"#d9d9d9","gridWidth":1,
 "values":[{"year":2024,"month":7,"date":15,"utc":true},{"year":2024,"month":7,"date":22,"utc":true},{"year":2024,"month":8,"date":1,"utc":true},{"year":2024,"month":8,"date":8,"utc":true},{"year":2024,"month":8,"date":15,"utc":true},{"year":2024,"month":8,"date":22,"utc":true},{"year":2024,"month":9,"date":1,"utc":true},{"year":2024,"month":9,"date":8,"utc":true},{"year":2024,"month":9,"date":15,"utc":true},{"year":2024,"month":9,"date":22,"utc":true},{"year":2024,"month":10,"date":1,"utc":true},{"year":2024,"month":10,"date":8,"utc":true},{"year":2024,"month":10,"date":15,"utc":true},{"year":2024,"month":10,"date":22,"utc":true},{"year":2024,"month":11,"date":1,"utc":true},{"year":2024,"month":11,"date":8,"utc":true},{"year":2024,"month":11,"date":15,"utc":true},{"year":2024,"month":11,"date":22,"utc":true},{"year":2024,"month":12,"date":1,"utc":true},{"year":2024,"month":12,"date":8,"utc":true},{"year":2024,"month":12,"date":15,"utc":true},{"year":2024,"month":12,"date":22,"utc":true},{"year":2025,"month":1,"date":1,"utc":true},{"year":2025,"month":1,"date":8,"utc":true}]}},
"y":{"field":"Preis","type":"quantitative",
 "scale":{"domain":[1.424,1.681],"zero":false,"nice":false},
 "axis":{"values":[1.45,1.5,1.55,1.6,1.65],"labelExpr":"replace(format(datum.value,'.3f'),'.',',')","grid":true,"gridDash":[3,3],"gridColor":"#d9d9d9","domain":false,"ticks":false,"labelPadding":8,"labelFontSize":11,"labelColor":"#333333",
 "title":"Median €/L","titleAngle":0,"titleAlign":"left","titleBaseline":"alphabetic","titleX":-70,"titleY":-4,"titleFontSize":12,"titleFontWeight":"normal","titleColor":"#333333"}},
"color":{"field":"Bundesland","type":"nominal",
 "scale":{"domain":["Burgenland","Kärnten","Niederösterreich","Oberösterreich","Salzburg","Steiermark","Tirol","Vorarlberg","Wien"],
  "range":["#8ea3cc","#f26b5f","#b2d657","#ffd92f","#66c2a5","#e8b49a","#e78ac3","#b3b3b3","#a6d9e6"]},
 "legend":{"title":null,"orient":"none","legendX":-70,"legendY":555,"direction":"horizontal","columns":9,"gridAlign":"all","columnPadding":3,"symbolType":"stroke","symbolSize":144,"symbolStrokeWidth":2,"labelFontSize":11,"labelColor":"#333333","labelOffset":8}}
}
}
